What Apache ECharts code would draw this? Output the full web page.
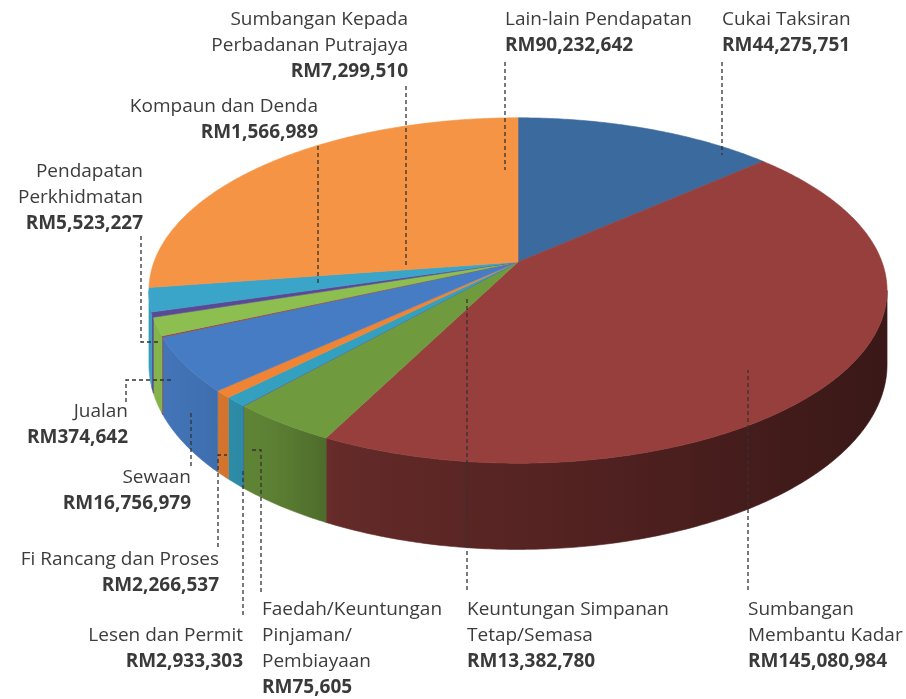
<!DOCTYPE html>
<html>
<head>
<meta charset="utf-8">
<script src="https://cdn.jsdelivr.net/npm/echarts@6/dist/echarts.min.js"></script>
<style>
html, body { margin: 0; padding: 0; background: #fff; }
#main { width: 906px; height: 699px; }
</style>
</head>
<body>
<div id="main"></div>
<script>
// data (clockwise from 12 o'clock)
var names = ['Cukai Taksiran', 'Sumbangan\nMembantu Kadar', 'Keuntungan Simpanan\nTetap/Semasa',
	'Faedah/Keuntungan\nPinjaman/\nPembiayaan', 'Lesen dan Permit', 'Fi Rancang dan Proses', 'Sewaan',
	'Jualan', 'Pendapatan\nPerkhidmatan', 'Kompaun dan Denda', 'Sumbangan Kepada\nPerbadanan Putrajaya',
	'Lain-lain Pendapatan'];
var values = [44275751, 145080984, 13382780, 75605, 2933303, 2266537, 16756979, 374642, 5523227, 1566989, 7299510, 90232642];

// styles
var colors = ['#3a6a9e', '#963f3d', '#6f9a3e', '#5e4e9a', '#33a0bf', '#ef8434', '#467cc4', '#9a4644', '#8dbe50', '#5a4a96', '#3aa5c8', '#f59444'];

// label layout: anchor x, top y, align, leader path
var labelPos = [
	{x: 722, y: 7, align: 'left', line: [[722, 62], [722, 155]]},
	{x: 748, y: 597, align: 'left', line: [[748, 590], [748, 370]]},
	{x: 467, y: 597, align: 'left', line: [[467, 590], [467, 297]]},
	{x: 262, y: 597, align: 'left', line: [[261, 592], [261, 450], [251, 450]]},
	{x: 243, y: 623, align: 'right', line: [[243, 615], [243, 470]]},
	{x: 219, y: 547, align: 'right', line: [[218, 547], [218, 455], [227, 455]]},
	{x: 191, y: 465, align: 'right', line: [[191, 466], [191, 412]]},
	{x: 128, y: 399, align: 'right', line: [[126, 402], [126, 380], [172, 380]]},
	{x: 143, y: 159, align: 'right', line: [[141, 236], [141, 342], [158, 342]]},
	{x: 318, y: 94, align: 'right', line: [[318, 146], [318, 285]]},
	{x: 408, y: 7, align: 'right', line: [[406, 86], [406, 268]]},
	{x: 505, y: 7, align: 'left', line: [[505, 62], [505, 170]]}
];

// pie geometry (perspective ellipse)
var CX = 518, CY = 262, RX = 364, RY = 168, K = 0.165, D = 72;
var total = values.reduce(function (a, b) { return a + b; }, 0);
var startA = [], endA = [], acc = 0;
for (var i = 0; i < values.length; i++) {
	startA.push(acc / total * Math.PI * 2);
	acc += values[i];
	endA.push(acc / total * Math.PI * 2);
}
var FRONT0 = Math.acos(-K), FRONT1 = Math.PI * 2 - Math.acos(-K);

function proj(t, r) {
	var X = r * Math.sin(t), Z = -r * Math.cos(t);
	var w = 1 / (1 - K * Z);
	return [CX + RX * X * w, CY + RY * Z * w, w];
}
function shade(hex, f) {
	var n = parseInt(hex.slice(1), 16);
	return 'rgb(' + Math.round(((n >> 16) & 255) * f) + ',' + Math.round(((n >> 8) & 255) * f) + ',' + Math.round((n & 255) * f) + ')';
}
function arc(a0, a1) {
	var pts = [], n = Math.max(2, Math.ceil((a1 - a0) / 0.01));
	for (var k = 0; k <= n; k++) pts.push(proj(a0 + (a1 - a0) * k / n, 1));
	return pts;
}

var myChart = echarts.init(document.getElementById('main'));

var graphics = [];
for (var j = 0; j < names.length; j++) {
	var p = labelPos[j];
	var txt = names[j].split('\n').map(function (s) { return '{n|' + s + '}'; }).join('\n') +
		'\n{v|RM' + values[j].toLocaleString('en-US') + '}';
	graphics.push({
		type: 'text', left: null, x: p.x, y: p.y, z: 10,
		style: {
			text: txt, align: p.align, verticalAlign: 'top',
			rich: {
				n: {fontFamily: 'Open Sans', fontSize: 19, lineHeight: 26, fill: '#3c3c3c', align: p.align},
				v: {fontFamily: 'Open Sans', fontSize: 19, fontWeight: 'bold', lineHeight: 26, fill: '#3a3a3a', align: p.align}
			}
		}
	});
	graphics.push({
		type: 'polyline', z: 10,
		shape: {points: p.line},
		style: {stroke: '#333', lineWidth: 1.3, lineDash: [4, 3], fill: null}
	});
}

myChart.setOption({
	backgroundColor: '#fff',
	animation: false,
	graphic: graphics,
	series: [{
		// side walls
		type: 'custom',
		coordinateSystem: 'none',
		z: 1,
		data: values.map(function (v) { return [v]; }),
		renderItem: function (params, api) {
			var i = params.dataIndex;
			var a0 = Math.max(startA[i], FRONT0), a1 = Math.min(endA[i], FRONT1);
			if (a1 <= a0) return null;
			var top = arc(a0, a1);
			var pts = top.map(function (q) { return [q[0], q[1]]; });
			for (var k = top.length - 1; k >= 0; k--) pts.push([top[k][0], top[k][1] + D * top[k][2]]);
			var c = colors[i];
			var grad = new echarts.graphic.LinearGradient(150, 0, 890, 0, [
				{offset: 0, color: shade(c, 0.95)},
				{offset: 0.16, color: shade(c, 0.84)},
				{offset: 0.26, color: shade(c, 0.66)},
				{offset: 0.61, color: shade(c, 0.53)},
				{offset: 1, color: shade(c, 0.38)}
			], true);
			return {type: 'polygon', shape: {points: pts}, style: {fill: grad, stroke: grad, lineWidth: 0.6}};
		}
	}, {
		// top faces
		type: 'custom',
		coordinateSystem: 'none',
		z: 2,
		data: values.map(function (v) { return [v]; }),
		renderItem: function (params, api) {
			var i = params.dataIndex;
			var pts = [[CX, CY]].concat(arc(startA[i], endA[i]).map(function (q) { return [q[0], q[1]]; }));
			return {type: 'polygon', shape: {points: pts}, style: {fill: colors[i], stroke: colors[i], lineWidth: 0.6}};
		}
	}]
});
</script>
</body>
</html>
